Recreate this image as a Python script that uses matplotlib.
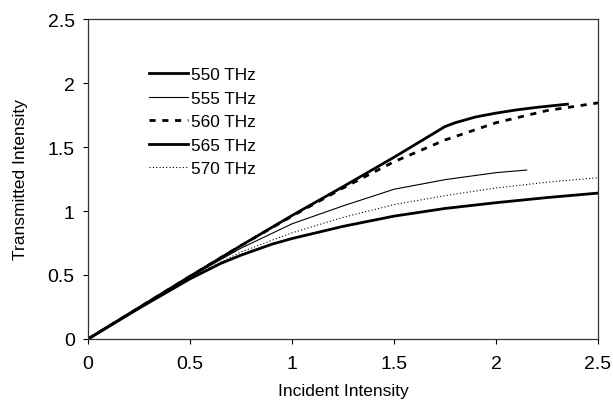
import matplotlib
matplotlib.use("Agg")
import matplotlib.pyplot as plt

plt.rcParams['font.family'] = ['Liberation Sans', 'DejaVu Sans']

# curves
x_550 = [0, 0.25, 0.5, 0.75, 1.0, 1.25, 1.5, 1.75, 1.8, 1.9, 2.0, 2.1, 2.2, 2.35]
y_550 = [0, 0.245, 0.49, 0.73, 0.965, 1.19, 1.42, 1.66, 1.69, 1.735, 1.765, 1.79, 1.81, 1.835]

x_555 = [0, 0.25, 0.5, 0.75, 1.0, 1.25, 1.5, 1.75, 2.0, 2.15]
y_555 = [0, 0.245, 0.485, 0.71, 0.9, 1.04, 1.17, 1.245, 1.30, 1.32]

x_560 = [0, 0.25, 0.5, 0.75, 1.0, 1.25, 1.5, 1.75, 2.0, 2.25, 2.5]
y_560 = [0, 0.245, 0.49, 0.73, 0.96, 1.18, 1.385, 1.555, 1.69, 1.785, 1.845]

x_565 = [0, 0.25, 0.5, 0.65, 0.75, 0.9, 1.0, 1.25, 1.5, 1.75, 2.0, 2.25, 2.5]
y_565 = [0, 0.24, 0.47, 0.59, 0.655, 0.74, 0.785, 0.88, 0.96, 1.02, 1.065, 1.105, 1.14]

x_570 = [0, 0.25, 0.5, 0.75, 1.0, 1.25, 1.5, 1.75, 2.0, 2.25, 2.5]
y_570 = [0, 0.245, 0.48, 0.68, 0.83, 0.95, 1.05, 1.12, 1.18, 1.225, 1.26]

x_ticks = [0, 0.5, 1, 1.5, 2, 2.5]
y_ticks = [0, 0.5, 1, 1.5, 2, 2.5]

fig = plt.figure(figsize=(6.13, 4.06), dpi=100)
ax = fig.add_axes([0.1436, 0.1626, 0.832, 0.788])

ax.plot(x_550, y_550, color="black", lw=2.0, label="550 THz")
ax.plot(x_555, y_555, color="black", lw=0.8, label="555 THz")
ax.plot(x_560, y_560, color="black", lw=2.0, linestyle=(0, (2.2, 2.4)), label="560 THz")
ax.plot(x_565, y_565, color="black", lw=2.0, label="565 THz")
ax.plot(x_570, y_570, color="black", lw=0.8, linestyle=(0, (1, 2)), label="570 THz")

ax.set_xlim(0, 2.5)
ax.set_ylim(0, 2.5)
ax.set_xticks(x_ticks)
ax.set_yticks(y_ticks)
ax.set_xticklabels([f"{t:g}" for t in x_ticks])
ax.set_yticklabels([f"{t:g}" for t in y_ticks])
ax.tick_params(direction="out", length=3.5, width=0.8, labelsize=14)
ax.tick_params(axis="x", pad=8)
ax.tick_params(axis="y", pad=6)
for s in ax.spines.values():
    s.set_linewidth(0.9)
    s.set_color("#333333")

ax.set_xlabel("Incident Intensity", fontsize=12.5, labelpad=8)
ax.set_ylabel("Transmitted Intensity", fontsize=12.5, labelpad=14)

ax.legend(loc="upper left", bbox_to_anchor=(0.12, 0.849), frameon=False,
          fontsize=12.4, handlelength=2.25, handletextpad=0.15, labelspacing=0.49,
          borderaxespad=0, borderpad=0)

fig.savefig("out.png", dpi=100)
